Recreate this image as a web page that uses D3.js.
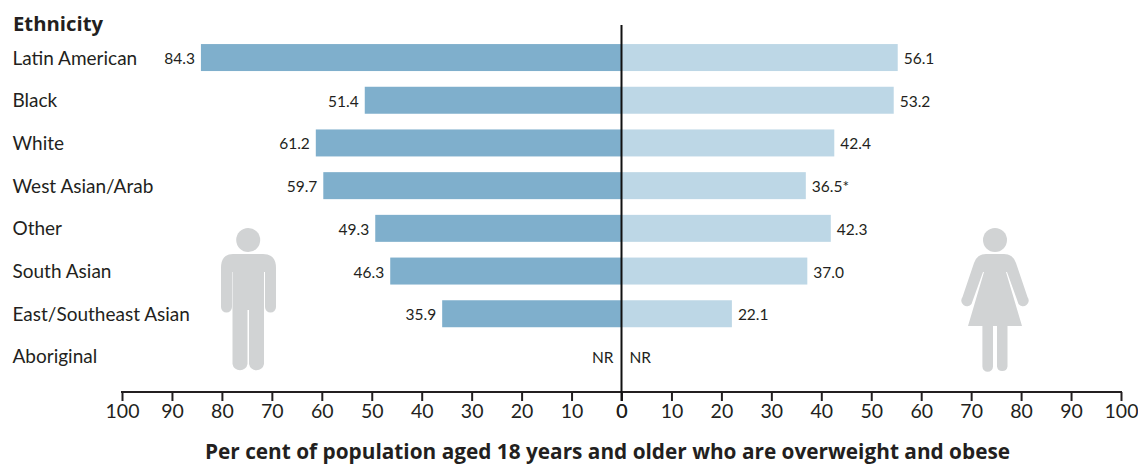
<!DOCTYPE html>
<html><head><meta charset="utf-8">
<script src="https://cdn.jsdelivr.net/npm/d3@7"></script>
<style>html,body{margin:0;padding:0;background:#fff}svg{display:block}text{font-family:Lato,sans-serif;fill:#231f20}.b{font-family:"Open Sans",sans-serif;font-weight:700}</style>
</head><body><svg id="c" width="1138" height="464"></svg>
<script>
const categories=["Latin American","Black","White","West Asian/Arab","Other","South Asian","East/Southeast Asian","Aboriginal"];
const maleValues=[84.2,51.4,61.2,59.7,49.3,46.3,35.9,null];
const femaleBars=[55.3,54.5,42.6,36.9,41.9,37.2,22.1,null];
const maleLabels=["84.3","51.4","61.2","59.7","49.3","46.3","35.9","NR"];
const femaleLabels=["56.1","53.2","42.4","36.5*","42.3","37.0","22.1","NR"];
const tickValues=[0,10,20,30,40,50,60,70,80,90,100];
const svg=d3.select("#c");
const W=4.995,zero=621.5;
const xR=d3.scaleLinear().domain([0,100]).range([zero,zero+100*W]);
const xL=d3.scaleLinear().domain([0,100]).range([zero,zero-100*W]);
const y=d3.scaleBand().domain(categories).range([36.2,36.2+8*42.7]).paddingInner(0.368).paddingOuter(0.184);
const cy=c=>y(c)+y.bandwidth()/2;
const axisY=392;
const rows=categories.map((c,i)=>({c,m:maleValues[i],f:femaleBars[i],ml:maleLabels[i],fl:femaleLabels[i]}));

// icons
const g=svg.append("g").attr("fill","#d1d3d4");
g.append("circle").attr("cx",248.2).attr("cy",240).attr("r",12);
g.append("path").attr("d","M233,254H263Q276,254 276,268V307A5.5,5.5 0 0 1 265,307V272H264V364A7.6,7.6 0 0 1 249,364V310H247.5V364A7.6,7.6 0 0 1 232.5,364V272H232V307A5.5,5.5 0 0 1 221,307V268Q221,254 233,254Z");
g.append("circle").attr("cx",995).attr("cy",240).attr("r",12);
g.append("path").attr("d","M986,254H1004Q1013,254 1016,263L1027.5,297A4.8,4.8 0 0 1 1018.5,304L1007,272L1006,272L1022,326H1007.5V366.5A5.3,5.3 0 0 1 997,366.5V326H993V366.5A5.3,5.3 0 0 1 982.4,366.5V326H968L984,272L983,272L971.5,304A4.8,4.8 0 0 1 962.5,297L974,263Q977,254 986,254Z");

// bars
svg.append("g").selectAll("rect").data(rows.filter(d=>d.m!=null)).join("rect")
 .attr("x",d=>xL(d.m)).attr("y",d=>y(d.c)).attr("width",d=>zero-xL(d.m)).attr("height",y.bandwidth()).attr("fill","#7fafcc");
svg.append("g").selectAll("rect").data(rows.filter(d=>d.f!=null)).join("rect")
 .attr("x",zero).attr("y",d=>y(d.c)).attr("width",d=>xR(d.f)-zero).attr("height",y.bandwidth()).attr("fill","#bdd7e6");

// labels
svg.append("text").attr("class","b").attr("x",13).attr("y",31).attr("font-size",20.3).text("Ethnicity");
svg.append("g").selectAll("text").data(rows).join("text").attr("x",12.5).attr("y",d=>cy(d.c)+7).attr("font-size",19).text(d=>d.c);
svg.append("g").selectAll("text").data(rows).join("text")
 .attr("x",d=>d.m==null?zero-8:xL(d.m)-6).attr("y",d=>cy(d.c)+6.5).attr("text-anchor","end").attr("font-size",15.5)
 .text(d=>d.ml);
svg.append("g").selectAll("text").data(rows).join("text")
 .attr("x",d=>d.f==null?zero+8:xR(d.f)+6).attr("y",d=>cy(d.c)+6.5).attr("font-size",15.5)
 .text(d=>d.fl);

// axes
const ax=sc=>{const a=svg.append("g").attr("transform",`translate(0,${axisY})`).call(d3.axisBottom(sc).tickValues(tickValues).tickSize(9).tickPadding(3).tickFormat(d3.format("d")));
 a.select(".domain").remove();
 a.selectAll("line").attr("stroke","#231f20").attr("stroke-width",2);
 a.selectAll("text").attr("font-size",19.5).attr("fill","#231f20").attr("style","font-family:Lato,sans-serif");};
ax(xL);ax(xR);
svg.append("line").attr("x1",xL(100)-1).attr("x2",xR(100)+1).attr("y1",axisY).attr("y2",axisY).attr("stroke","#231f20").attr("stroke-width",2);
svg.append("line").attr("x1",zero).attr("x2",zero).attr("y1",25).attr("y2",401).attr("stroke","#111").attr("stroke-width",2);
svg.append("text").attr("class","b").attr("x",607.5).attr("y",458.5).attr("text-anchor","middle").attr("font-size",20.8).text("Per cent of population aged 18 years and older who are overweight and obese");
</script></body></html>
